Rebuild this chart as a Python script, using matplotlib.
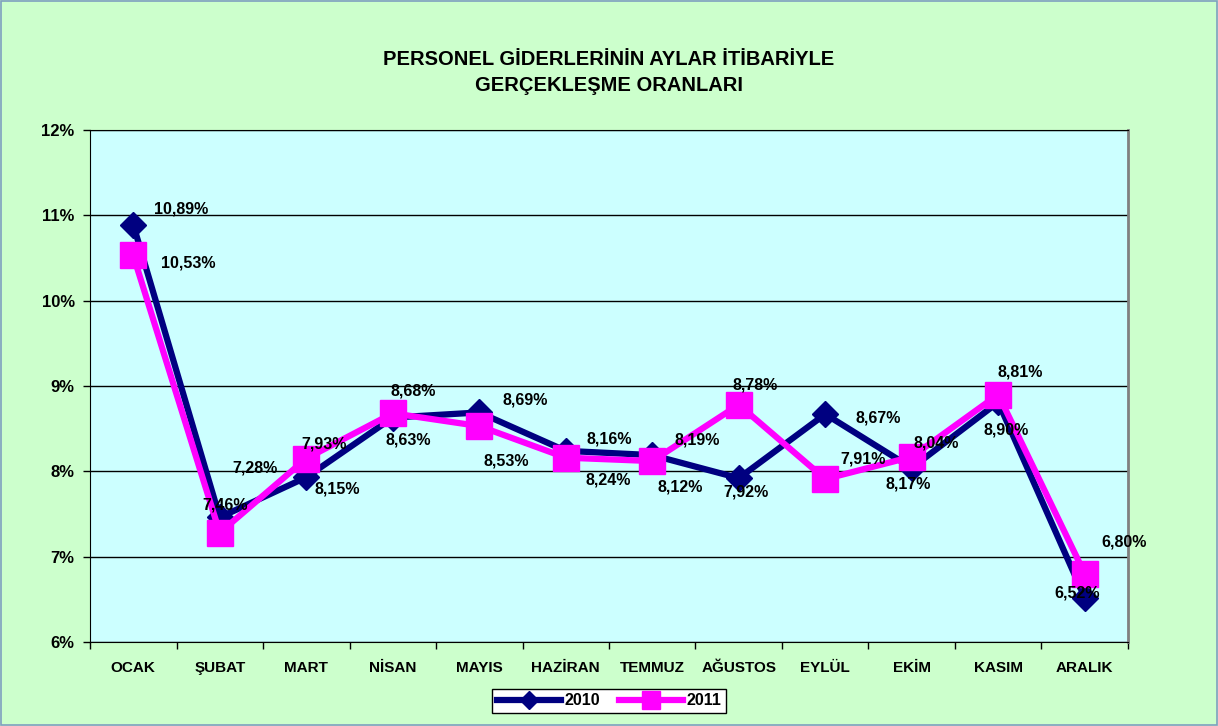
import numpy as np
import matplotlib.pyplot as plt
from matplotlib.ticker import FuncFormatter

plt.rcParams['font.family'] = ['Liberation Sans', 'DejaVu Sans']

# aylar
months = ['OCAK', 'ŞUBAT', 'MART', 'NİSAN', 'MAYIS', 'HAZİRAN', 'TEMMUZ',
          'AĞUSTOS', 'EYLÜL', 'EKİM', 'KASIM', 'ARALIK']
# gerçekleşme oranları (%)
y2010 = [10.89, 7.46, 7.93, 8.63, 8.69, 8.24, 8.19, 7.92, 8.67, 8.04, 8.81, 6.52]
y2011 = [10.53, 7.28, 8.15, 8.68, 8.53, 8.16, 8.12, 8.78, 7.91, 8.17, 8.90, 6.80]

# etiket kaymalari (piksel, x sag / y yukari) - orijinal Excel yerlesimi
off2010 = [(48, 16), (5, 12), (18, 33), (15, -22), (46, 12), (42, -29),
           (45, 15), (7, -14), (53, -4), (24, 25), (22, 30), (-8, 5)]
off2011 = [(55, -8), (35, 65), (31, -30), (20, 22), (27, -35), (43, 19),
           (28, -26), (16, 20), (38, 20), (-4, -27), (8, -35), (39, 32)]

fig = plt.figure(figsize=(12.18, 7.26), dpi=100)
fig.patch.set_facecolor('#CCFFCC')
fig.patches.append(plt.Rectangle((0.001, 0.001), 0.998, 0.997, transform=fig.transFigure,
                                 fill=False, edgecolor='#7f9fbf', linewidth=1.2))
ax = fig.add_axes([0.0739, 0.1157, 0.8522, 0.7053])
ax.set_facecolor('#CCFFFF')

x = np.arange(len(months))
ax.plot(x, y2010, color='#000080', lw=4.5, marker='D', ms=13, label='2010', zorder=3)
ax.plot(x, y2011, color='#FF00FF', lw=4.5, marker='s', ms=19, label='2011', zorder=4)

px = 0.72  # 1 piksel = 0.72 pt
for xi, v, (dx, dy) in zip(x, y2010, off2010):
    ax.annotate(f'{v:.2f}%'.replace('.', ','), (xi, v), xytext=(dx * px, dy * px),
                textcoords='offset points', ha='center', va='center',
                fontsize=11.5, fontweight='bold', zorder=6)
for xi, v, (dx, dy) in zip(x, y2011, off2011):
    ax.annotate(f'{v:.2f}%'.replace('.', ','), (xi, v), xytext=(dx * px, dy * px),
                textcoords='offset points', ha='center', va='center',
                fontsize=11.5, fontweight='bold', zorder=6)

ax.set_xlim(-0.5, len(months) - 0.5)
ax.set_ylim(6, 12)
ax.set_yticks(np.arange(6, 13, 1))
ax.yaxis.set_major_formatter(FuncFormatter(lambda v, p: f'{v:.0f}%'))
ax.grid(axis='y', color='black', lw=1)
ax.set_axisbelow(True)
ax.set_xticks(x)
ax.set_xticklabels(months, fontweight='bold', fontsize=11)
ax.set_xticks(np.arange(-0.5, len(months), 1), minor=True)
ax.tick_params(axis='x', which='major', length=0, pad=14)
ax.tick_params(axis='x', which='minor', length=5, width=1, direction='out')
ax.tick_params(axis='y', length=5, width=1, labelsize=12, pad=6)
for lab in ax.get_yticklabels():
    lab.set_fontweight('bold')

ax.spines['left'].set_color('black')
ax.spines['bottom'].set_color('black')
ax.spines['top'].set_color('black')
ax.spines['right'].set_color('#808080')
ax.spines['right'].set_linewidth(2)

fig.text(0.5, 0.9, 'PERSONEL GİDERLERİNİN AYLAR İTİBARİYLE\nGERÇEKLEŞME ORANLARI',
         ha='center', va='center', fontsize=14.5, fontweight='bold', linespacing=1.45)

leg = ax.legend(loc='center', bbox_to_anchor=(0.5, -0.115), ncol=2, frameon=True,
                fancybox=False, edgecolor='black', framealpha=1, facecolor='white',
                prop={'weight': 'bold', 'size': 11.5}, handlelength=4.0,
                columnspacing=1.2, handletextpad=0.2, borderpad=0.3, markerscale=0.7)

fig.savefig('out.png', dpi=100, facecolor=fig.get_facecolor())
